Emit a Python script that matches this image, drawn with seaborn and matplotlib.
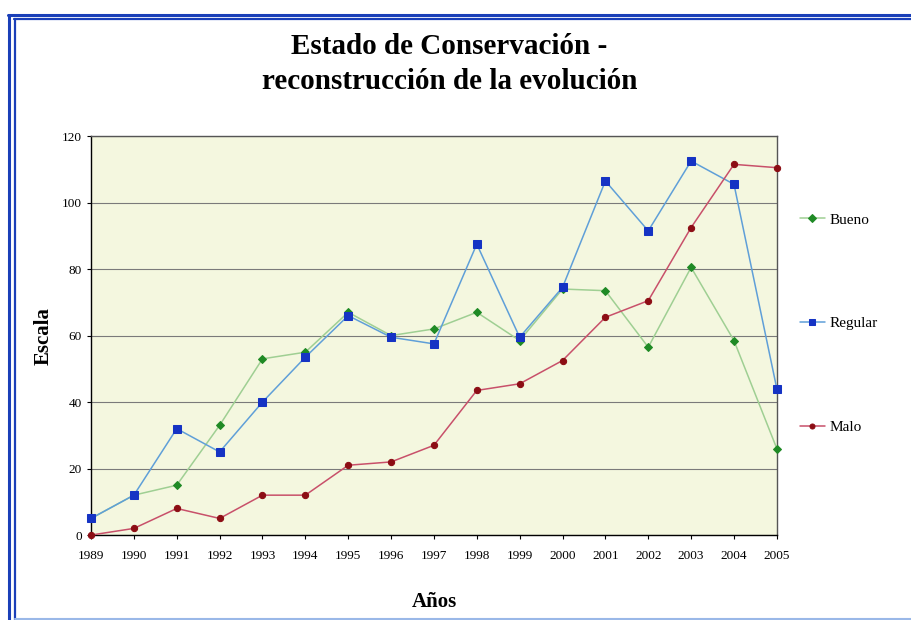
import pandas as pd
import seaborn as sns
import matplotlib.pyplot as plt
from matplotlib.lines import Line2D

# Datos
anios = list(range(1989, 2006))
bueno = [5, 12, 15, 33, 53, 55, 67, 60, 62, 67, 58.5, 74, 73.5, 56.5, 80.5, 58.5, 26]
regular = [5, 12, 32, 25, 40, 53.5, 66, 59.5, 57.5, 87.5, 59.5, 74.5, 106.5, 91.5, 112.5, 105.5, 44]
malo = [0, 2, 8, 5, 12, 12, 21, 22, 27, 43.5, 45.5, 52.5, 65.5, 70.5, 92.5, 111.5, 110.5]

datos = pd.DataFrame({'anio': anios, 'Bueno': bueno, 'Regular': regular, 'Malo': malo})

sns.set_style('white')
plt.rcParams['font.family'] = ['Liberation Serif', 'DejaVu Serif']
plt.rcParams['text.color'] = 'black'
plt.rcParams['axes.labelcolor'] = 'black'

fig = plt.figure(figsize=(9.12, 6.2), dpi=100)
ax = fig.add_axes([0.0998, 0.137, 0.752, 0.6435])
ax.set_facecolor('#f4f7df')

# series: (columna, color linea, marcador, color marcador, tamano)
series = [
    ('Bueno', '#9fcf93', 'D', '#1f8a25', 4.5),
    ('Regular', '#5f9fd8', 's', '#1533c4', 6),
    ('Malo', '#c8506a', 'o', '#8c0d14', 4.5),
]
for col, lc, mk, mc, ms in series:
    sns.lineplot(data=datos, x='anio', y=col, ax=ax, color=lc, linewidth=1.1,
                 marker=mk, markersize=ms, markerfacecolor=mc, markeredgecolor=mc,
                 label=col, clip_on=False, zorder=3)

ax.set_xlim(1989, 2005)
ax.set_ylim(0, 120)
ax.set_xticks(anios)
ax.set_yticks(range(0, 121, 20))
ax.tick_params(axis='both', labelsize=9.5, direction='out', length=3, width=0.8,
               colors='black', bottom=True, left=True)
ax.tick_params(axis='x', pad=8)
ax.yaxis.grid(True, color='#7a7a7a', linewidth=0.8)
ax.set_axisbelow(True)
for s in ['left', 'bottom']:
    ax.spines[s].set_color('black')
    ax.spines[s].set_linewidth(1.0)
for s in ['top', 'right']:
    ax.spines[s].set_color('#555555')
    ax.spines[s].set_linewidth(1.0)

ax.set_xlabel('Años', fontsize=15, fontweight='bold', labelpad=21)
ax.set_ylabel('Escala', fontsize=15, fontweight='bold', labelpad=6)

fig.text(0.493, 0.897, 'Estado de Conservación -\nreconstrucción de la evolución',
         ha='center', va='center', fontsize=21, fontweight='bold', linespacing=1.4,
         color='black')

leg = ax.legend(loc='center left', bbox_to_anchor=(1.025, 0.53), frameon=False,
                fontsize=11, labelspacing=5.9, handlelength=1.6, handletextpad=0.3,
                borderaxespad=0, markerscale=0.8)

# marco azul doble
azul = '#1a3fb8'
fig.add_artist(Line2D([0.010, 0.010], [0, 0.976], color=azul, lw=2.2))
fig.add_artist(Line2D([0.016, 0.016], [0, 0.969], color=azul, lw=1.6))
fig.add_artist(Line2D([0.009, 1.0], [0.976, 0.976], color=azul, lw=2.2))
fig.add_artist(Line2D([0.015, 1.0], [0.969, 0.969], color=azul, lw=1.6))
fig.add_artist(Line2D([0.016, 1.0], [0.002, 0.002], color='#9ab8e8', lw=1.5))

plt.savefig('out.png', dpi=100)
plt.close()
